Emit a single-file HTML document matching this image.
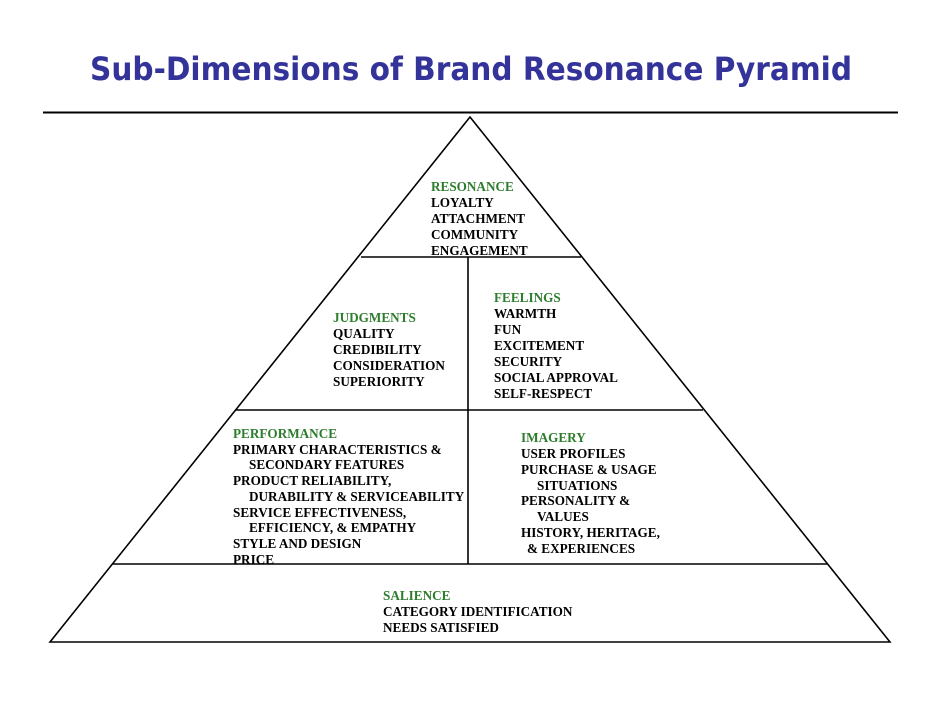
<!DOCTYPE html>
<html><head><meta charset="utf-8"><style>
html,body{margin:0;padding:0;background:#fff;}
svg{display:block}
.t{font-family:"Liberation Serif",serif;font-weight:bold;font-size:13.2px;fill:#000}
.g{fill:#2e7d2e}
</style></head><body>
<svg width="942" height="728" viewBox="0 0 942 728" xmlns="http://www.w3.org/2000/svg">
<text x="90" y="80" font-family="DejaVu Sans, Verdana, sans-serif" font-weight="bold" font-size="32" fill="#333399" textLength="762" lengthAdjust="spacingAndGlyphs">Sub-Dimensions of Brand Resonance Pyramid</text>
<line x1="43" y1="112.5" x2="898" y2="112.5" stroke="#000" stroke-width="2"/>
<g stroke="#000" stroke-width="1.6" fill="none">
<polygon points="470,117 50,642 890,642"/>
<line x1="361" y1="257" x2="581" y2="257"/>
<line x1="236" y1="410" x2="703" y2="410"/>
<line x1="113" y1="564" x2="827" y2="564"/>
<line x1="468" y1="257" x2="468" y2="564"/>
</g>
<g class="t">
<text x="431" y="191" class="t g">RESONANCE</text>
<text x="431" y="207">LOYALTY</text>
<text x="431" y="223">ATTACHMENT</text>
<text x="431" y="239">COMMUNITY</text>
<text x="431" y="255">ENGAGEMENT</text>

<text x="333" y="322" class="t g">JUDGMENTS</text>
<text x="333" y="338">QUALITY</text>
<text x="333" y="354">CREDIBILITY</text>
<text x="333" y="370">CONSIDERATION</text>
<text x="333" y="386">SUPERIORITY</text>

<text x="494" y="302" class="t g">FEELINGS</text>
<text x="494" y="318">WARMTH</text>
<text x="494" y="334">FUN</text>
<text x="494" y="350">EXCITEMENT</text>
<text x="494" y="366">SECURITY</text>
<text x="494" y="382">SOCIAL APPROVAL</text>
<text x="494" y="398">SELF-RESPECT</text>

<text x="233" y="438" class="t g">PERFORMANCE</text>
<text x="233" y="454">PRIMARY CHARACTERISTICS &amp;</text>
<text x="249" y="469">SECONDARY FEATURES</text>
<text x="233" y="485">PRODUCT RELIABILITY,</text>
<text x="249" y="501">DURABILITY &amp; SERVICEABILITY</text>
<text x="233" y="517">SERVICE EFFECTIVENESS,</text>
<text x="249" y="532">EFFICIENCY, &amp; EMPATHY</text>
<text x="233" y="548">STYLE AND DESIGN</text>
<text x="233" y="564">PRICE</text>

<text x="521" y="442" class="t g">IMAGERY</text>
<text x="521" y="458">USER PROFILES</text>
<text x="521" y="474">PURCHASE &amp; USAGE</text>
<text x="537" y="490">SITUATIONS</text>
<text x="521" y="505">PERSONALITY &amp;</text>
<text x="537" y="521">VALUES</text>
<text x="521" y="537">HISTORY,  HERITAGE,</text>
<text x="527" y="553">&amp; EXPERIENCES</text>

<text x="383" y="600" class="t g">SALIENCE</text>
<text x="383" y="616">CATEGORY IDENTIFICATION</text>
<text x="383" y="632">NEEDS SATISFIED</text>
</g>
</svg>
</body></html>
